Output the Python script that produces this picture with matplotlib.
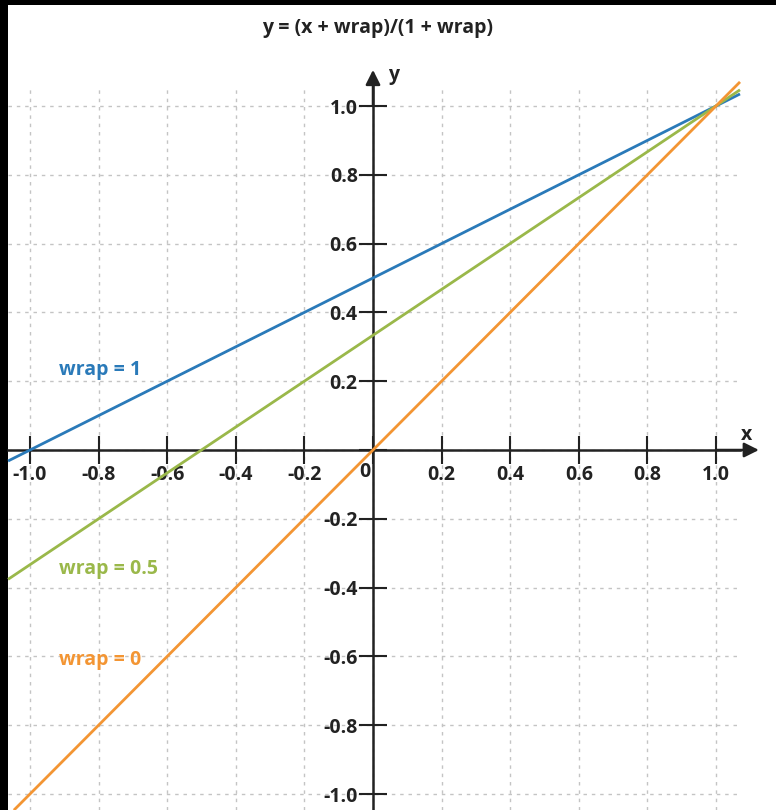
import matplotlib
matplotlib.use("Agg")
import matplotlib.pyplot as plt
from matplotlib.patches import Rectangle

# ---- data ----
series_names = ["wrap = 1", "wrap = 0.5", "wrap = 0"]
series_x = [[-1.064, 1.07], [-1.064, 1.07], [-1.047, 1.07]]
series_y = [[-0.032, 1.035], [-0.376, 1.047], [-1.047, 1.07]]
series_colors = ["#2a7ab9", "#9ab84a", "#f39533"]
label_pos = [(-0.915, 0.233), (-0.915, -0.345), (-0.915, -0.61)]
tick_vals = [-1.0, -0.8, -0.6, -0.4, -0.2, 0.0, 0.2, 0.4, 0.6, 0.8, 1.0]
title = "y = (x + wrap)/(1 + wrap)"

FONT = "Open Sans"
FS = 14
W, H = 776, 810
fig = plt.figure(figsize=(W / 100, H / 100), dpi=100, facecolor="black")
fig.patches.append(Rectangle((8 / W, 0), 1, (H - 5) / H, transform=fig.transFigure,
                             facecolor="white", edgecolor="none", zorder=-10))

x0, xs = 373, 343.0
y0, ys = 450, 344.0
left_px, right_px, top_px, bot_px = 8, 740, 85, 810
ax = fig.add_axes([left_px / W, (H - bot_px) / H, (right_px - left_px) / W, (bot_px - top_px) / H])
ax.set_facecolor("none")
ax.set_xlim((left_px - x0) / xs, (right_px - x0) / xs)
ax.set_ylim((y0 - bot_px) / ys, (y0 - top_px) / ys)

ax.grid(True, linestyle=(0, (2.5, 3.5)), color="#c4c4c4", lw=1)
ax.set_axisbelow(True)

for s in ["top", "right"]:
    ax.spines[s].set_visible(False)
for s in ["left", "bottom"]:
    ax.spines[s].set_position("zero")
    ax.spines[s].set_color("#222222")
    ax.spines[s].set_linewidth(1.8)

ax.set_xticks(tick_vals)
ax.set_yticks(tick_vals)
ax.set_xticklabels(["" if v == 0 else f"{v:.1f}" for v in tick_vals])
ax.set_yticklabels(["" if v == 0 else f"{v:.1f}" for v in tick_vals])
ax.tick_params(direction="inout", length=20, width=1.5, color="#222222", labelsize=FS,
               labelcolor="#222222")
ax.tick_params(axis="x", pad=1)
ax.tick_params(axis="y", pad=1)
for lab in ax.get_xticklabels() + ax.get_yticklabels():
    lab.set_fontfamily(FONT)
    lab.set_fontweight("bold")
ax.text(-0.025, -0.065, "0", ha="center", va="center", fontsize=FS, family=FONT,
        fontweight="bold", color="#222222")

# axis arrows
ax.annotate("", xy=(1.125, 0), xytext=(1.0, 0), annotation_clip=False,
            arrowprops=dict(arrowstyle="-|>", color="#222222", lw=1.8, mutation_scale=22,
                            shrinkA=0, shrinkB=0))
ax.annotate("", xy=(0, 1.105), xytext=(0, 1.0), annotation_clip=False,
            arrowprops=dict(arrowstyle="-|>", color="#222222", lw=1.8, mutation_scale=22,
                            shrinkA=0, shrinkB=0))
ax.text(1.088, 0.045, "x", ha="center", va="center", fontsize=FS, family=FONT,
        fontweight="bold", color="#222222", clip_on=False)
ax.text(0.06, 1.09, "y", ha="center", va="center", fontsize=FS, family=FONT,
        fontweight="bold", color="#222222", clip_on=False)

for xv, yv, c, name, (lx, ly) in zip(series_x, series_y, series_colors, series_names, label_pos):
    ax.plot(xv, yv, color=c, lw=2, clip_on=False, solid_capstyle="butt", zorder=3)
    ax.text(lx, ly, name, ha="left", va="center", fontsize=FS, family=FONT,
            fontweight="bold", color=c)

fig.text(378 / W, 1 - 28 / H, title, ha="center", va="center", fontsize=FS, family=FONT,
         fontweight="bold", color="#222222")

fig.savefig("out.png", dpi=100, facecolor="black")
